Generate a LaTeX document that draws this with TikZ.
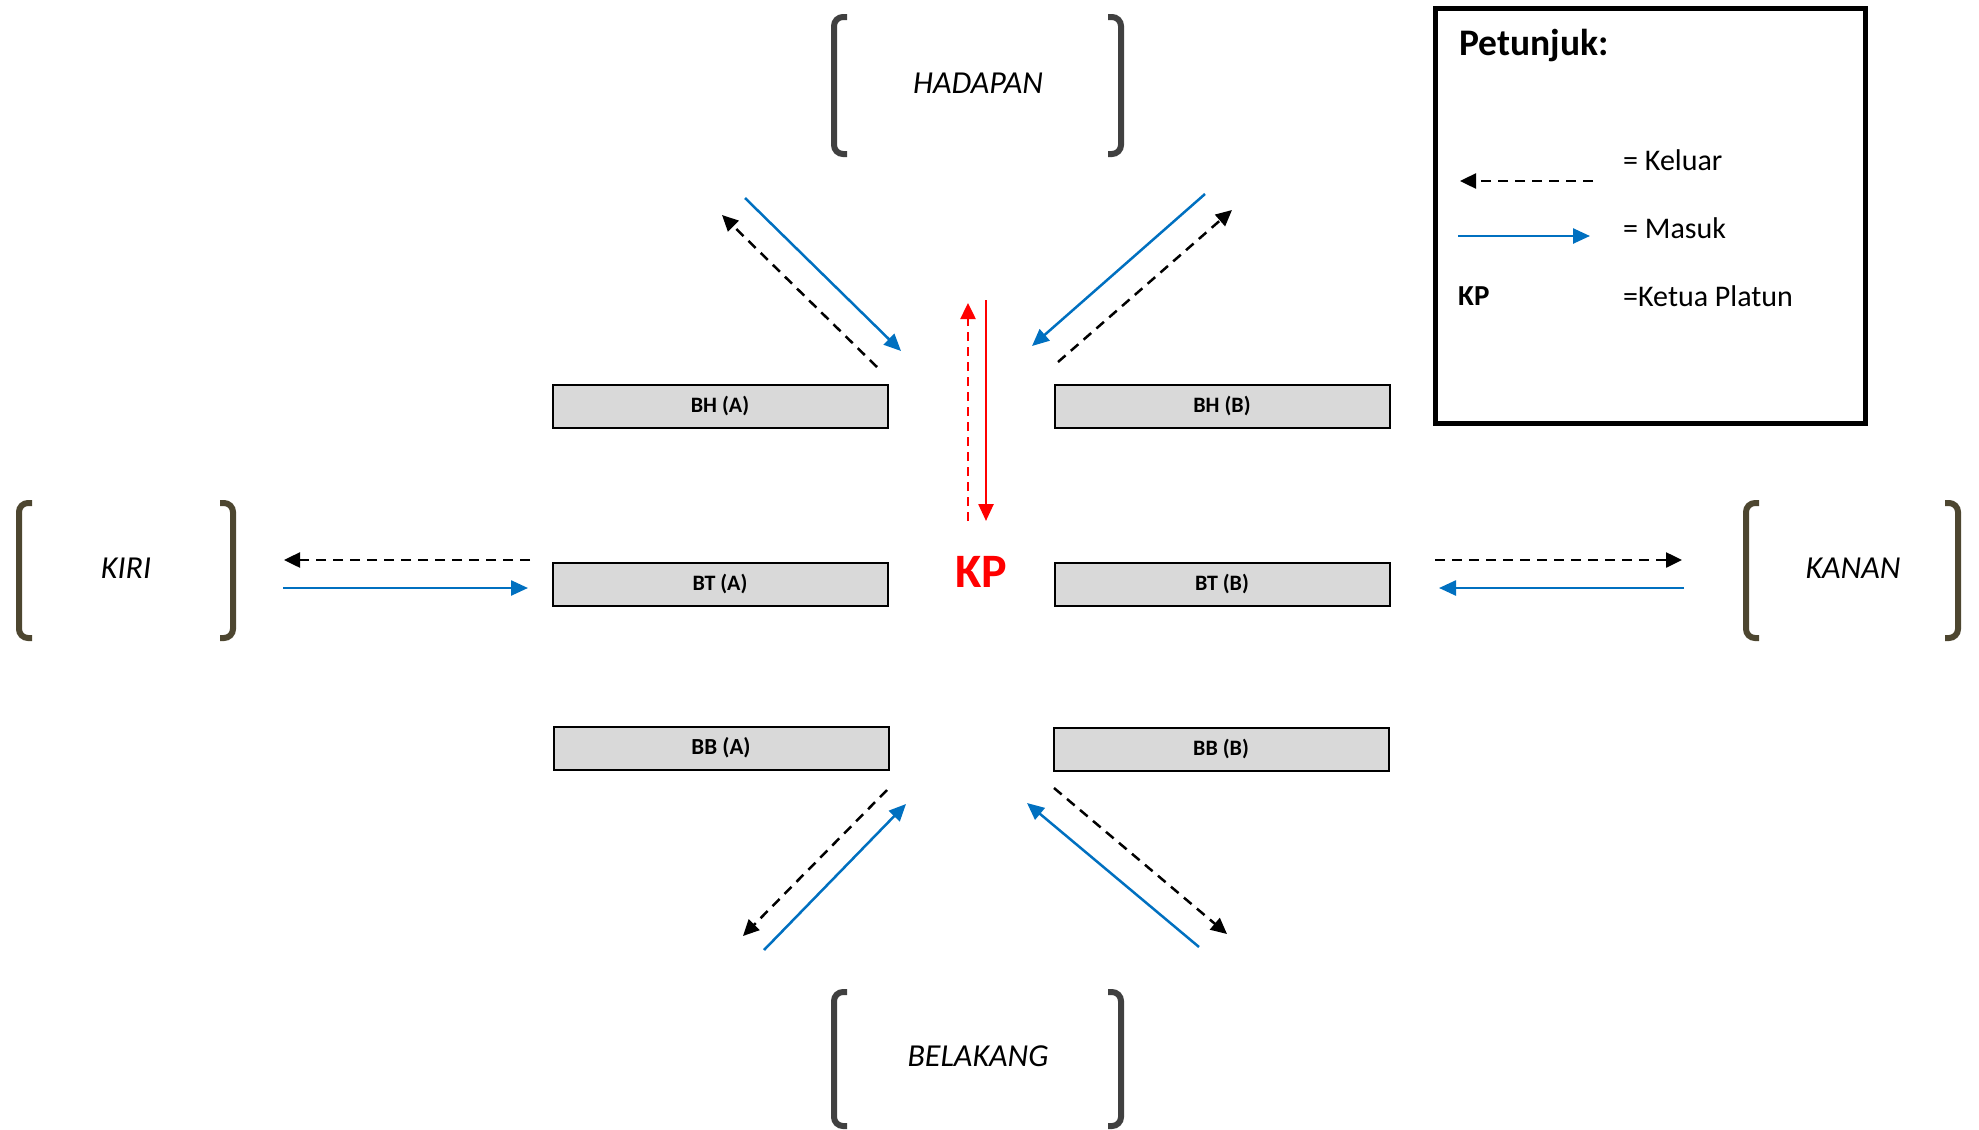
\documentclass[tikz,border=0pt]{standalone}
\usepackage{fontspec}
\setmainfont{Carlito}
\usetikzlibrary{arrows.meta}

\definecolor{masukblue}{HTML}{0070C0}
\definecolor{boxgray}{HTML}{D9D9D9}
\definecolor{kurunggray}{HTML}{404040}
\definecolor{kurungolive}{HTML}{4D4630}

\tikzset{
  barisan/.style={draw=black, line width=2pt, fill=boxgray, minimum width=335pt,
    minimum height=43pt, inner sep=0pt, font=\fontsize{22}{26}\selectfont\bfseries},
  keluar/.style={black, line width=2.5pt, dash pattern=on 10pt off 7pt,
    -{Triangle[length=16pt,width=15pt]}},
  masuk/.style={masukblue, line width=2.5pt, -{Triangle[length=17pt,width=15pt]}},
  arah/.style={font=\fontsize{32}{38}\selectfont\itshape},
  legtext/.style={anchor=west, inner sep=0pt, font=\fontsize{30}{36}\selectfont},
}

% bracket pair: left x, right x, top y, bottom y, colour
\newcommand{\kurung}[5]{%
  \draw[#5, line width=6pt, rounded corners=9pt]
    (#1+13,#3) -- (#1,#3) -- (#1,#4) -- (#1+13,#4);
  \draw[#5, line width=6pt, rounded corners=9pt]
    (#2-13,#3) -- (#2,#3) -- (#2,#4) -- (#2-13,#4);
}

\begin{document}
\begin{tikzpicture}[x=1pt, y=-1pt]
  \useasboundingbox (0,0) rectangle (1979,1130);

  % arah
  \kurung{834}{1121}{17}{154}{kurunggray}
  \kurung{834}{1121}{992}{1126}{kurunggray}
  \kurung{19}{233}{503}{638}{kurungolive}
  \kurung{1746}{1958}{503}{638}{kurungolive}
  \node[arah] (hadapan) at (978,83) {HADAPAN};
  \node[arah] (belakang) at (978,1056) {BELAKANG};
  \node[arah] (kiri) at (126,568) {KIRI};
  \node[arah] (kanan) at (1853,568) {KANAN};

  % barisan
  \node[barisan] (bhA) at (720,406) {BH (A)};
  \node[barisan] (bhB) at (1222,406) {BH (B)};
  \node[barisan] (btA) at (720,584) {BT (A)};
  \node[barisan] (btB) at (1222,584) {BT (B)};
  \node[barisan, font=\fontsize{23}{26}\selectfont\bfseries] (bbA) at (721,748) {BB (A)};
  \node[barisan] (bbB) at (1221,749) {BB (B)};
  \node[red, font=\fontsize{48}{56}\selectfont\bfseries] (kp) at (981,572) {KP};

  % hujung anak panah
  \coordinate (tlMa) at (745,198);  \coordinate (tlMb) at (901,351);
  \coordinate (tlKa) at (877,367);  \coordinate (tlKb) at (722,215);
  \coordinate (trMa) at (1205,194); \coordinate (trMb) at (1032,346);
  \coordinate (trKa) at (1058,362); \coordinate (trKb) at (1232,210);
  \coordinate (blKa) at (887,790);  \coordinate (blKb) at (743,936);
  \coordinate (blMa) at (764,950);  \coordinate (blMb) at (906,804);
  \coordinate (brKa) at (1054,788); \coordinate (brKb) at (1227,934);
  \coordinate (brMa) at (1199,947); \coordinate (brMb) at (1027,803);
  \coordinate (lKa) at (530,560);   \coordinate (lKb) at (284,560);
  \coordinate (lMa) at (283,588);   \coordinate (lMb) at (528,588);
  \coordinate (rKa) at (1435,560);  \coordinate (rKb) at (1682,560);
  \coordinate (rMa) at (1684,588);  \coordinate (rMb) at (1439,588);
  \coordinate (kpKa) at (968,521);  \coordinate (kpKb) at (968,303);
  \coordinate (kpMa) at (986,300);  \coordinate (kpMb) at (986,521);

  \foreach \p in {tl,tr,bl,br,l,r}{
    \draw[keluar] (\p Ka) -- (\p Kb);
    \draw[masuk] (\p Ma) -- (\p Mb);
  }
  \draw[keluar, red, dash pattern=on 9pt off 6pt] (kpKa) -- (kpKb);
  \draw[masuk, red] (kpMa) -- (kpMb);

  % petunjuk
  \node[draw=black, line width=5pt, minimum width=430pt, minimum height=415pt,
    inner sep=0pt] (petunjuk) at (1650,216) {};
  \node[legtext, font=\fontsize{37.5}{44}\selectfont\bfseries] (tajuk) at (1459,46) {Petunjuk:};
  \coordinate (legKa) at (1593,181); \coordinate (legKb) at (1460,181);
  \coordinate (legMa) at (1458,236); \coordinate (legMb) at (1590,236);
  \draw[keluar] (legKa) -- (legKb);
  \draw[masuk] (legMa) -- (legMb);
  \node[legtext] (keluarTeks) at (1623,160) {= Keluar};
  \node[legtext] (masukTeks) at (1623,228) {= Masuk};
  \node[legtext, font=\fontsize{29}{34}\selectfont\bfseries] (kpTeks) at (1458,296) {KP};
  \node[legtext] (kpMaksud) at (1623,296) {=Ketua Platun};
\end{tikzpicture}
\end{document}
